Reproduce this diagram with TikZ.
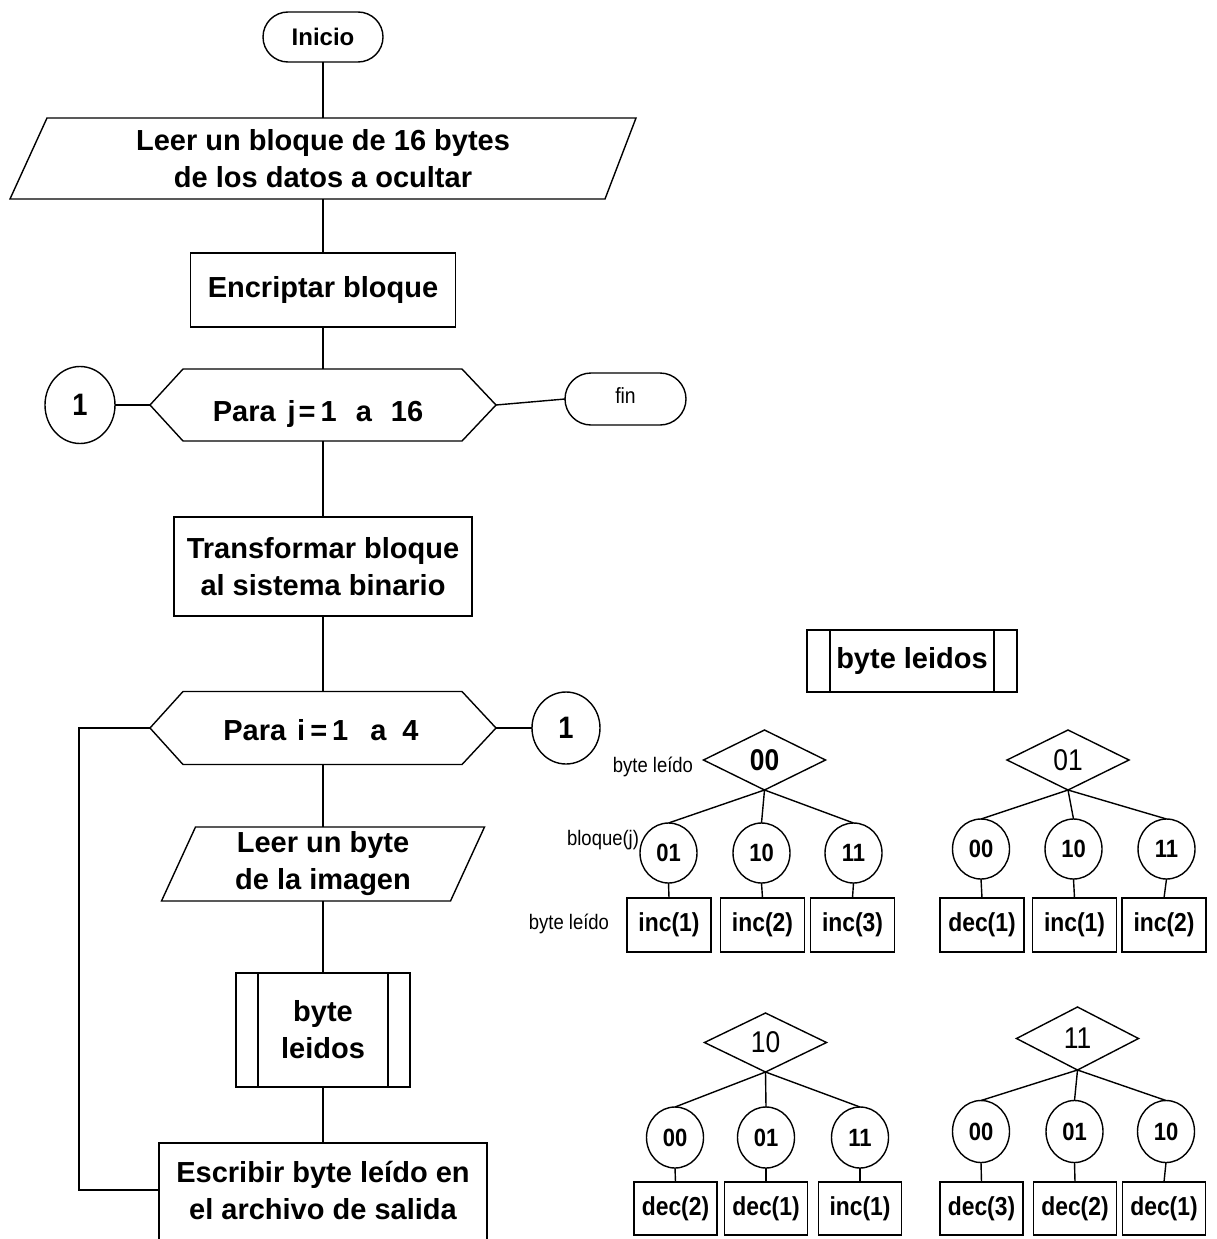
\documentclass[tikz,border=0pt]{standalone}
\usepackage{fontspec}
\setmainfont{Liberation Sans}
\newfontfamily\narrowsans[FakeStretch=0.88]{Liberation Sans}
\usetikzlibrary{shapes.geometric,shapes.misc}

\begin{document}
\begin{tikzpicture}[x=1pt,y=-1pt,line width=1.4pt,
  every node/.style={inner sep=0pt,outer sep=0pt},
  big/.style={font=\fontsize{29}{37}\selectfont\bfseries,align=center},
  term/.style={draw,rounded rectangle,minimum width=120pt,minimum height=50pt},
  conn/.style={draw,ellipse,font=\narrowsans\fontsize{31}{34}\selectfont\bfseries},
  dia/.style={draw,diamond,minimum width=122pt,minimum height=60pt,font=\narrowsans\fontsize{30}{32}\selectfont},
  ell/.style={draw,ellipse,minimum width=57pt,minimum height=61pt,font=\narrowsans\fontsize{25}{28}\selectfont\bfseries},
  bx/.style={draw,minimum width=84pt,minimum height=54pt,font=\narrowsans\fontsize{26}{30}\selectfont\bfseries},
  lbl/.style={anchor=east,font=\narrowsans\fontsize{21}{24}\selectfont}]

\useasboundingbox (0,0) rectangle (1217,1239);
\fill[white] (0,0) rectangle (1217,1239);
\clip (0,0) rectangle (1217,1239);

% ---------- main flow ----------
\node[term,font=\fontsize{24}{28}\selectfont\bfseries] (inicio) at (323,37) {Inicio};

\node[big,minimum width=626pt,minimum height=81pt] (leer) at (323,158.5)
  {Leer un bloque de 16 bytes\\de los datos a ocultar};
\draw ([xshift=37pt]leer.north west) -- (leer.north east)
  -- ([xshift=-31pt]leer.south east) -- (leer.south west) -- cycle;

\node[big,draw,minimum width=265pt,minimum height=74pt] (enc) at (323,290) {Encriptar bloque};

\node[big,minimum width=346pt,minimum height=72pt,text height=33pt,text depth=0pt] (paraj) at (323,405)
  {Para\hspace{12pt}j\hspace{3pt}=\hspace{5pt}1\hspace{19pt}a\hspace{19pt}16\hspace{10pt}};
\draw (paraj.west) -- ([xshift=33pt]paraj.north west) -- ([xshift=-34pt]paraj.north east)
  -- (paraj.east) -- ([xshift=-34pt]paraj.south east) -- ([xshift=33pt]paraj.south west) -- cycle;

\node[conn,minimum width=70pt,minimum height=77pt] (c1l) at (80,405) {1};
\node[term,minimum width=121pt,minimum height=52pt,font=\narrowsans\fontsize{22}{26}\selectfont,text height=8pt,text depth=0pt] (fin) at (625.5,399) {fin};

\node[big,draw,minimum width=298pt,minimum height=99pt] (trans) at (323,566.5)
  {Transformar bloque\\al sistema binario};

\node[big,minimum width=346pt,minimum height=73pt,text height=24pt,text depth=0pt] (parai) at (323,728)
  {Para\hspace{11pt}i\hspace{5pt}=\hspace{5pt}1\hspace{22pt}a\hspace{16pt}4\hspace{4pt}};
\draw (parai.west) -- ([xshift=33pt]parai.north west) -- ([xshift=-34pt]parai.north east)
  -- (parai.east) -- ([xshift=-34pt]parai.south east) -- ([xshift=33pt]parai.south west) -- cycle;

\node[conn,minimum width=68pt,minimum height=72pt] (c1r) at (566,728) {1};

\node[big,minimum width=323pt,minimum height=74pt] (leerb) at (323,864)
  {Leer un byte\\de la imagen};
\draw ([xshift=34pt]leerb.north west) -- (leerb.north east)
  -- ([xshift=-34pt]leerb.south east) -- (leerb.south west) -- cycle;

\node[big,draw,minimum width=174pt,minimum height=114pt] (sub) at (323,1030) {byte\\leidos};
\draw ([xshift=22pt]sub.north west) -- ([xshift=22pt]sub.south west);
\draw ([xshift=-22pt]sub.north east) -- ([xshift=-22pt]sub.south east);

\node[big,minimum width=328pt,minimum height=94pt] (esc) at (323,1190)
  {Escribir byte leído en\\el archivo de salida};
\draw ([yshift=-6pt]esc.south west) -- (esc.north west) -- (esc.north east) -- ([yshift=-6pt]esc.south east);

% main connectors
\draw (inicio.south) -- (leer.north);
\draw (leer.south) -- (enc.north);
\draw (enc.south) -- (paraj.north);
\draw (c1l.east) -- (paraj.west);
\draw (paraj.east) -- (fin.west);
\draw (paraj.south) -- (trans.north);
\draw (trans.south) -- (parai.north);
\draw (parai.east) -- (c1r.west);
\draw (parai.south) -- (leerb.north);
\draw (leerb.south) -- (sub.north);
\draw (sub.south) -- (esc.north);
\draw (parai.west) -- ++(-71,0) |- (esc.west);

% ---------- byte leidos table ----------
\node[big,draw,minimum width=210pt,minimum height=62pt] (sub2) at (912,661) {byte leidos};
\draw ([xshift=23pt]sub2.north west) -- ([xshift=23pt]sub2.south west);
\draw ([xshift=-23pt]sub2.north east) -- ([xshift=-23pt]sub2.south east);

% tree 00
\node[dia,font=\narrowsans\fontsize{30}{32}\selectfont\bfseries] (d1) at (764.5,760) {00};
\node[ell,minimum height=60pt] (d1a) at (668.5,853) {01};
\node[ell,minimum height=60pt] (d1b) at (761.5,853) {10};
\node[ell,minimum height=60pt] (d1c) at (853.5,853) {11};
\node[bx] (d1x) at (669,925) {inc(1)};
\node[bx] (d1y) at (762.5,925) {inc(2)};
\node[bx] (d1z) at (852.5,925) {inc(3)};
\node[lbl] (lb1) at (693,767) {byte leído};
\node[lbl] (lb2) at (639,840) {bloque(j)};
\node[lbl] (lb3) at (609,924) {byte leído};

% tree 01
\node[dia] (d2) at (1068,760) {01};
\node[ell,minimum height=60pt] (d2a) at (981,849) {00};
\node[ell,minimum height=60pt] (d2b) at (1073.5,849) {10};
\node[ell,minimum height=60pt] (d2c) at (1166.5,849) {11};
\node[bx] (d2x) at (982,925) {dec(1)};
\node[bx] (d2y) at (1074.5,925) {inc(1)};
\node[bx] (d2z) at (1164,925) {inc(2)};

% tree 10
\node[dia,minimum height=59pt] (d3) at (765.5,1042.5) {10};
\node[ell] (d3a) at (675,1137.5) {00};
\node[ell] (d3b) at (766,1137.5) {01};
\node[ell] (d3c) at (860,1137.5) {11};
\node[bx,minimum width=83pt,minimum height=53pt] (d3x) at (675.5,1208.5) {dec(2)};
\node[bx,minimum width=83pt,minimum height=53pt] (d3y) at (766,1208.5) {dec(1)};
\node[bx,minimum width=83pt,minimum height=53pt] (d3z) at (860,1208.5) {inc(1)};

% tree 11
\node[dia,minimum height=63pt] (d4) at (1077.5,1038.5) {11};
\node[ell,minimum height=62pt] (d4a) at (981,1131.5) {00};
\node[ell,minimum height=62pt] (d4b) at (1074.5,1131.5) {01};
\node[ell,minimum height=62pt] (d4c) at (1166,1131.5) {10};
\node[bx,minimum width=83pt,minimum height=53pt] (d4x) at (981.5,1208.5) {dec(3)};
\node[bx,minimum width=83pt,minimum height=53pt] (d4y) at (1075,1208.5) {dec(2)};
\node[bx,minimum width=83pt,minimum height=53pt] (d4z) at (1164,1208.5) {dec(1)};

% tree branches and stems
\foreach \t in {d1,d2,d3,d4}{
  \foreach \c/\b in {a/x,b/y,c/z}{
    \draw (\t.south) -- (\t\c.north);
    \draw (\t\c.south) -- (\t\b.north);
  }
}
\end{tikzpicture}
\end{document}
